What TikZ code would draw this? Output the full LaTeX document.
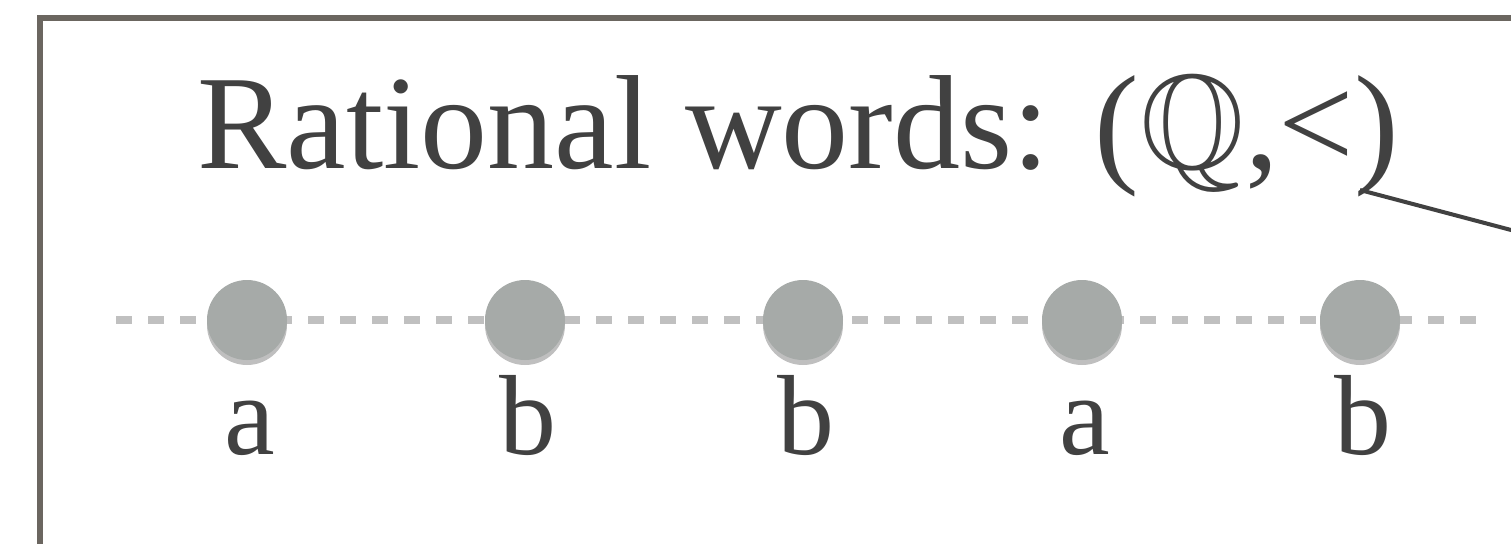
\documentclass[tikz,border=0pt]{standalone}
\usepackage{amssymb}
\usepackage{fontspec}
\setmainfont{Liberation Serif}
\usetikzlibrary{shadows}
\definecolor{framec}{HTML}{6B6660}
\definecolor{textc}{HTML}{414141}
\definecolor{dotc}{HTML}{A6AAA8}
\definecolor{dashc}{HTML}{C0C0C0}
\tikzset{
  dotnode/.style={circle, fill=dotc, minimum size=40pt, inner sep=0pt,
    drop shadow={shadow xshift=0pt, shadow yshift=-2.5pt, opacity=0.25, fill=black}},
  lbl/.style={text=textc, font=\fontsize{57}{62}\selectfont, anchor=base, inner sep=0pt},
  ttl/.style={text=textc, font=\fontsize{67}{73}\selectfont, anchor=base west, inner sep=0pt},
}
\begin{document}
\begin{tikzpicture}[x=0.5pt,y=-0.5pt]
\useasboundingbox (0,0) rectangle (1511,543);
\clip (0,0) rectangle (1511,543);
\fill[white] (0,0) rectangle (1511,543);
% frame
\coordinate (fa) at (40,700);
\coordinate (fb) at (40,17.5);
\coordinate (fc) at (1700,17.5);
\draw[framec, line width=3pt] (fa) -- (fb) -- (fc);
% title
\node[ttl] (title) at (197,168) {Rational words: (\kern1pt$\mathbb{Q}$,<)};
% pointer line
\coordinate (p1) at (1360,190);
\coordinate (p2) at (1700,280);
\draw[textc, line width=2pt] (p1) -- (p2);
% dashed line
\coordinate (d1) at (116,320);
\coordinate (d2) at (1476,320);
\draw[dashc, line width=4pt, dash pattern=on 8pt off 8pt] (d1) -- (d2);
% dots and labels
\node[dotnode] (n1) at (247,320) {};
\node[dotnode] (n2) at (525,320) {};
\node[dotnode] (n3) at (803,320) {};
\node[dotnode] (n4) at (1082,320) {};
\node[dotnode] (n5) at (1360,320) {};
\node[lbl] (l1) at (250,454) {a};
\node[lbl] (l2) at (528,454) {b};
\node[lbl] (l3) at (806,454) {b};
\node[lbl] (l4) at (1085,454) {a};
\node[lbl] (l5) at (1363,454) {b};
\end{tikzpicture}
\end{document}
